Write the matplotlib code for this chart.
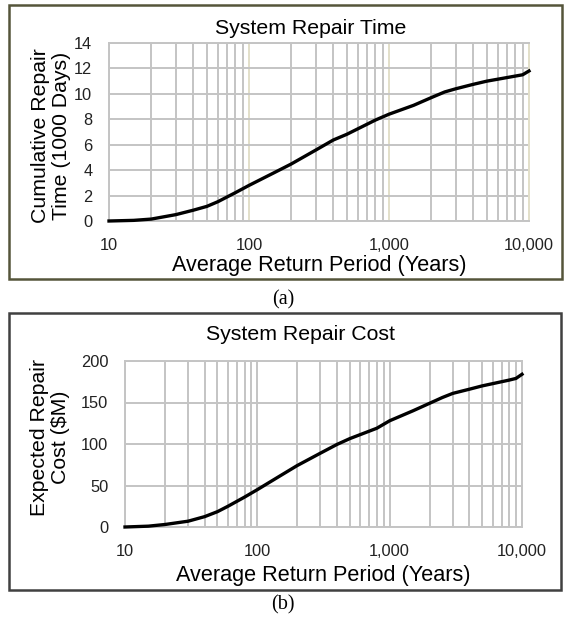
import matplotlib
matplotlib.use("Agg")
import matplotlib.pyplot as plt
from matplotlib.patches import Rectangle
from matplotlib.ticker import FuncFormatter, LogLocator, NullFormatter

plt.rcParams['font.family'] = ['Liberation Sans', 'DejaVu Sans']

# return periods (years)
periods = [10, 15, 20, 30, 40, 50, 60, 80, 100, 150, 200, 300, 400, 500, 800,
           1000, 1500, 2000, 2500, 3000, 4000, 5000, 8000, 9000, 10000]
# cumulative repair time (1000 days)
repair_time = [0.0, 0.05, 0.15, 0.5, 0.85, 1.15, 1.52, 2.23, 2.8, 3.78, 4.48,
               5.58, 6.37, 6.82, 7.94, 8.4, 9.1, 9.7, 10.15, 10.4, 10.75, 11.0,
               11.4, 11.5, 11.8]
# expected repair cost ($M)
repair_cost = [0, 1, 3, 7, 12.5, 18.5, 25, 36, 45, 62, 74, 89, 99.5, 106.5,
               119, 128, 140, 149, 156, 161, 166, 170, 177, 179, 184]

time_ticks = [0, 2, 4, 6, 8, 10, 12, 14]
cost_ticks = [0, 50, 100, 150, 200]
x_ticks = [10, 100, 1000, 10000]

W, H = 567, 621
fig = plt.figure(figsize=(W / 100, H / 100), dpi=100)
grid_c = '#c4c4c4'
beige = '#e2dfc9'


def fx(px):
    return px / W


def fy(py):
    return 1 - py / H


def style_axis(ax, yticks, major_color):
    ax.set_xscale('log')
    ax.set_xlim(10, 10000)
    ax.set_ylim(yticks[0], yticks[-1])
    ax.set_yticks(yticks)
    ax.set_xticks(x_ticks)
    ax.xaxis.set_minor_locator(LogLocator(base=10, subs=range(2, 10)))
    ax.xaxis.set_minor_formatter(NullFormatter())
    ax.xaxis.set_major_formatter(FuncFormatter(lambda v, p: f'{int(v):,}'))
    ax.grid(which='minor', axis='x', color=grid_c, lw=1.4)
    ax.grid(which='major', axis='x', color=major_color, lw=1.4)
    ax.grid(which='major', axis='y', color=grid_c, lw=1.4)
    ax.tick_params(which='both', length=0, labelsize=11.8, colors='#222222')
    ax.tick_params(axis='x', pad=12)
    ax.tick_params(axis='y', pad=12)
    for s in ax.spines.values():
        s.set_color(grid_c)
        s.set_linewidth(1.4)
    ax.set_axisbelow(True)


# ---- (a) repair time
fig.add_artist(Rectangle((fx(9), fy(279)), fx(562) - fx(9), fy(5) - fy(279),
                         transform=fig.transFigure, fill=False,
                         edgecolor='#55553a', lw=1.8))
ax1 = fig.add_axes([fx(109), fy(221), fx(529) - fx(109), fy(43) - fy(221)])
style_axis(ax1, time_ticks, beige)
ax1.spines['right'].set_color(beige)
ax1.plot(periods, repair_time, color='black', lw=2.4, clip_on=False, zorder=5)
fig.text(fx(311), fy(28), 'System Repair Time', ha='center', va='center', fontsize=15.3)
fig.text(fx(319), fy(265), 'Average Return Period (Years)', ha='center', va='center', fontsize=15.6)
fig.text(fx(51), fy(136), 'Cumulative Repair\nTime (1000 Days)', ha='center', va='center',
         rotation=90, fontsize=15.3, linespacing=1.1)
fig.text(fx(283), fy(300), '(a)', ha='center', va='center', fontsize=14.5,
         family='Liberation Serif')

# ---- (b) repair cost
fig.add_artist(Rectangle((fx(9), fy(590)), fx(561) - fx(9), fy(313) - fy(590),
                         transform=fig.transFigure, fill=False,
                         edgecolor='#404040', lw=1.8))
ax2 = fig.add_axes([fx(125), fy(527), fx(522) - fx(125), fy(361) - fy(527)])
style_axis(ax2, cost_ticks, grid_c)
ax2.plot(periods, repair_cost, color='black', lw=2.4, clip_on=False, zorder=5)
fig.text(fx(301), fy(335), 'System Repair Cost', ha='center', va='center', fontsize=15.3)
fig.text(fx(323), fy(575), 'Average Return Period (Years)', ha='center', va='center', fontsize=15.6)
fig.text(fx(50), fy(437), 'Expected Repair\nCost ($M)', ha='center', va='center',
         rotation=90, fontsize=15.3, linespacing=1.1)
fig.text(fx(283), fy(605), '(b)', ha='center', va='center', fontsize=14.5,
         family='Liberation Serif')

fig.savefig('out.png', dpi=100)
